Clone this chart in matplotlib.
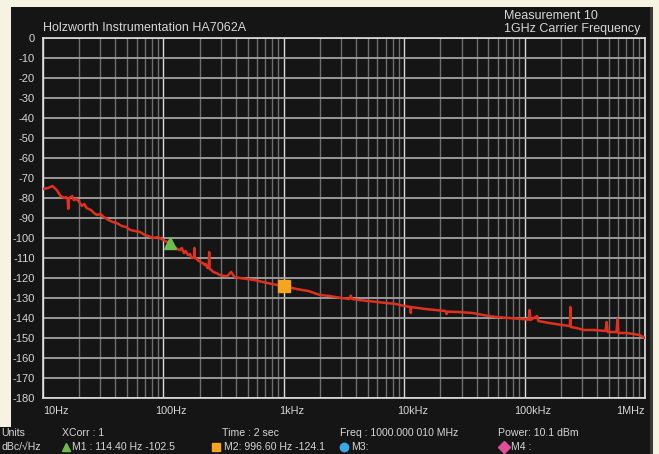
import matplotlib
matplotlib.use("Agg")
import matplotlib.pyplot as plt
import matplotlib.patches as mpatches
import matplotlib.transforms as mtransforms

plt.rcParams["font.family"] = ["Liberation Sans", "DejaVu Sans"]

# ---------------------------------------------------------------
# Data
# ---------------------------------------------------------------
freq_hz = [
    10, 11, 12, 13, 14, 15, 15.5, 16, 16.2, 16.5, 17, 17.5, 18, 19, 20, 21,
    22, 23, 25, 26.5, 28, 30, 32, 35, 38, 41, 45, 49, 53, 58, 64, 70, 75,
    82, 90, 100, 107, 114.4, 120, 125, 130, 137, 142, 148, 153, 160, 166,
    172, 180, 181, 182, 190, 196, 200, 207, 213, 220, 225, 232, 238, 240,
    242, 250, 260, 275, 295, 320, 340, 365, 390, 430, 494, 570, 670, 800,
    996.6, 1280, 1600, 2000, 2400, 3000, 3500, 3600, 3700, 4200, 5000,
    6000, 7000, 8500, 10000, 11300, 11350, 11400, 13000, 15000, 18000,
    22000, 22500, 23000, 28000, 37000, 45000, 58000, 75000, 96000, 108000,
    110000, 112000, 127000, 130000, 160000, 205000, 238000, 240000, 242000,
    270000, 310000, 380000, 470000, 480000, 490000, 580000, 590000, 600000,
    700000, 800000, 900000, 1000000,
]
noise_dbc = [
    -75.5, -75, -74, -76, -79, -80, -79.5, -80.5, -85.5, -80, -79.5, -79,
    -81, -80.5, -82, -84, -83, -85, -86, -87.5, -88.5, -88, -89.5, -91,
    -92, -92.5, -94, -94.5, -96, -96.5, -97, -98.5, -99, -100, -99.5, -101,
    -102, -102.5, -104, -104.5, -105.5, -106, -105, -107.5, -106.5, -108.5,
    -108, -110, -109.5, -105, -110, -110.5, -111.5, -111.5, -112.5, -112.5,
    -113.5, -113, -115, -114, -107, -115.5, -116, -117, -117.5, -118.5,
    -119, -119, -117, -119.5, -120, -120.5, -121, -122, -123, -124.1,
    -125.5, -126.5, -128.5, -129, -130, -130.5, -128.8, -130.5, -131,
    -131.5, -132, -132.5, -133, -134, -134.5, -137.5, -134.5, -135, -135.5,
    -136, -136.5, -138, -136.8, -137, -137.5, -138.5, -139.5, -140, -140.5,
    -140.8, -136, -141, -139, -141.5, -142.5, -143.5, -144, -134.5, -144.5,
    -145, -146, -146, -146.5, -142, -147, -147, -140.5, -147.5, -147.5,
    -148, -148.5, -150,
]

marker_freq = [114.4, 996.6]
marker_dbc = [-102.5, -124.1]

y_ticks = list(range(0, -181, -10))
x_ticks = [1e1, 1e2, 1e3, 1e4, 1e5, 1e6]
x_tick_labels = ["10Hz", "100Hz", "1kHz", "10kHz", "100kHz", "1MHz"]

# ---------------------------------------------------------------
# Figure
# ---------------------------------------------------------------
W, H = 659, 454
BG = "#f7f3e2"
PANEL = "#151515"
TXT = "#d6d6d6"

fig = plt.figure(figsize=(W / 100, H / 100), dpi=100)
fig.patch.set_facecolor(BG)


def px_rect(x0, y0, x1, y1, color):
    """Rectangle in pixel coords measured from the top-left corner."""
    fig.add_artist(mpatches.Rectangle(
        (x0 / W, 1 - y1 / H), (x1 - x0) / W, (y1 - y0) / H,
        transform=fig.transFigure, facecolor=color, edgecolor="none", zorder=0))


def px_text(x, y, s, **kw):
    fig.text(x / W, 1 - y / H, s, **kw)


px_rect(11, 7, 650, 454, PANEL)
px_rect(650, 7, 653, 454, "#3a3a3a")
px_rect(0, 427, 650, 454, PANEL)

ax = fig.add_axes([43 / W, 1 - 398 / H, (645 - 43) / W, (398 - 38) / H])
ax.set_facecolor(PANEL)
ax.set_xscale("log")
ax.set_xlim(10, 1e6)
ax.set_ylim(-180, 0)

# grid
for dec in x_ticks[:-1]:
    for m in range(2, 10):
        ax.axvline(dec * m, color="#6e6e6e", lw=1.0, zorder=1)
for xt in x_ticks:
    ax.axvline(xt, color="#dcdcdc", lw=1.0, zorder=1)
for yt in y_ticks:
    ax.axhline(yt, color="#a2a2a2", lw=1.3, zorder=1)
for sp in ax.spines.values():
    sp.set_color("#e0e0e0")
    sp.set_linewidth(1.2)

# trace + markers
ax.plot(freq_hz, noise_dbc, color="#e0301e", lw=1.8, zorder=3)
ax.plot(marker_freq[0], marker_dbc[0], "^", color="#6cc04a", ms=8, zorder=4)
ax.plot(marker_freq[1], marker_dbc[1], "s", color="#f5a51e", ms=8, zorder=4)

# ticks
ax.set_yticks(y_ticks)
ax.set_yticklabels([str(v) for v in y_ticks])
ax.tick_params(axis="y", length=0, pad=6, labelsize=8, labelcolor=TXT)
ax.set_xticks([])
ax.minorticks_off()

trans = mtransforms.blended_transform_factory(ax.transData, ax.transAxes)
for i, (xt, lab) in enumerate(zip(x_ticks, x_tick_labels)):
    if i == 0:
        ha, dx = "left", 0
    elif i == len(x_ticks) - 1:
        ha, dx = "right", 0
    else:
        ha, dx = "center", 8
    t = mtransforms.offset_copy(trans, fig=fig, x=dx * 0.72, y=-13 * 0.72,
                                units="points")
    ax.text(xt, 0, lab, transform=t, ha=ha, va="center", fontsize=7.8,
            color=TXT)

# header texts
px_text(43, 31, "Holzworth Instrumentation HA7062A", fontsize=9, color=TXT,
        va="baseline")
px_text(504, 19, "Measurement 10", fontsize=9, color=TXT, va="baseline")
px_text(504, 32, "1GHz Carrier Frequency", fontsize=9, color=TXT,
        va="baseline")

# status bar
fs = 7.6
row1, row2 = 433, 447
px_text(1, row1, "Units", fontsize=fs, color=TXT, va="center")
px_text(62, row1, "XCorr : 1", fontsize=fs, color=TXT, va="center")
px_text(222, row1, "Time : 2 sec", fontsize=fs, color=TXT, va="center")
px_text(340, row1, "Freq : 1000.000 010 MHz", fontsize=fs, color=TXT,
        va="center")
px_text(498, row1, "Power: 10.1 dBm", fontsize=fs, color=TXT, va="center")

px_text(1, row2, "dBc/\u221aHz", fontsize=fs, color=TXT, va="center")
px_text(72, row2, "M1 : 114.40 Hz -102.5", fontsize=fs, color=TXT,
        va="center")
px_text(224, row2, "M2: 996.60 Hz -124.1", fontsize=fs, color=TXT,
        va="center")
px_text(351, row2, "M3:", fontsize=fs, color=TXT, va="center")
px_text(511, row2, "M4 :", fontsize=fs, color=TXT, va="center")

legend_marks = [
    (66, "^", "#6cc04a"),
    (216, "s", "#f5a51e"),
    (344, "o", "#3aa8e8"),
    (504, "D", "#e0509a"),
]
for x, m, c in legend_marks:
    fig.add_artist(plt.Line2D([x / W], [1 - row2 / H], marker=m, color=c,
                              ms=6, transform=fig.transFigure))

fig.savefig("out.png", dpi=100, facecolor=BG)
